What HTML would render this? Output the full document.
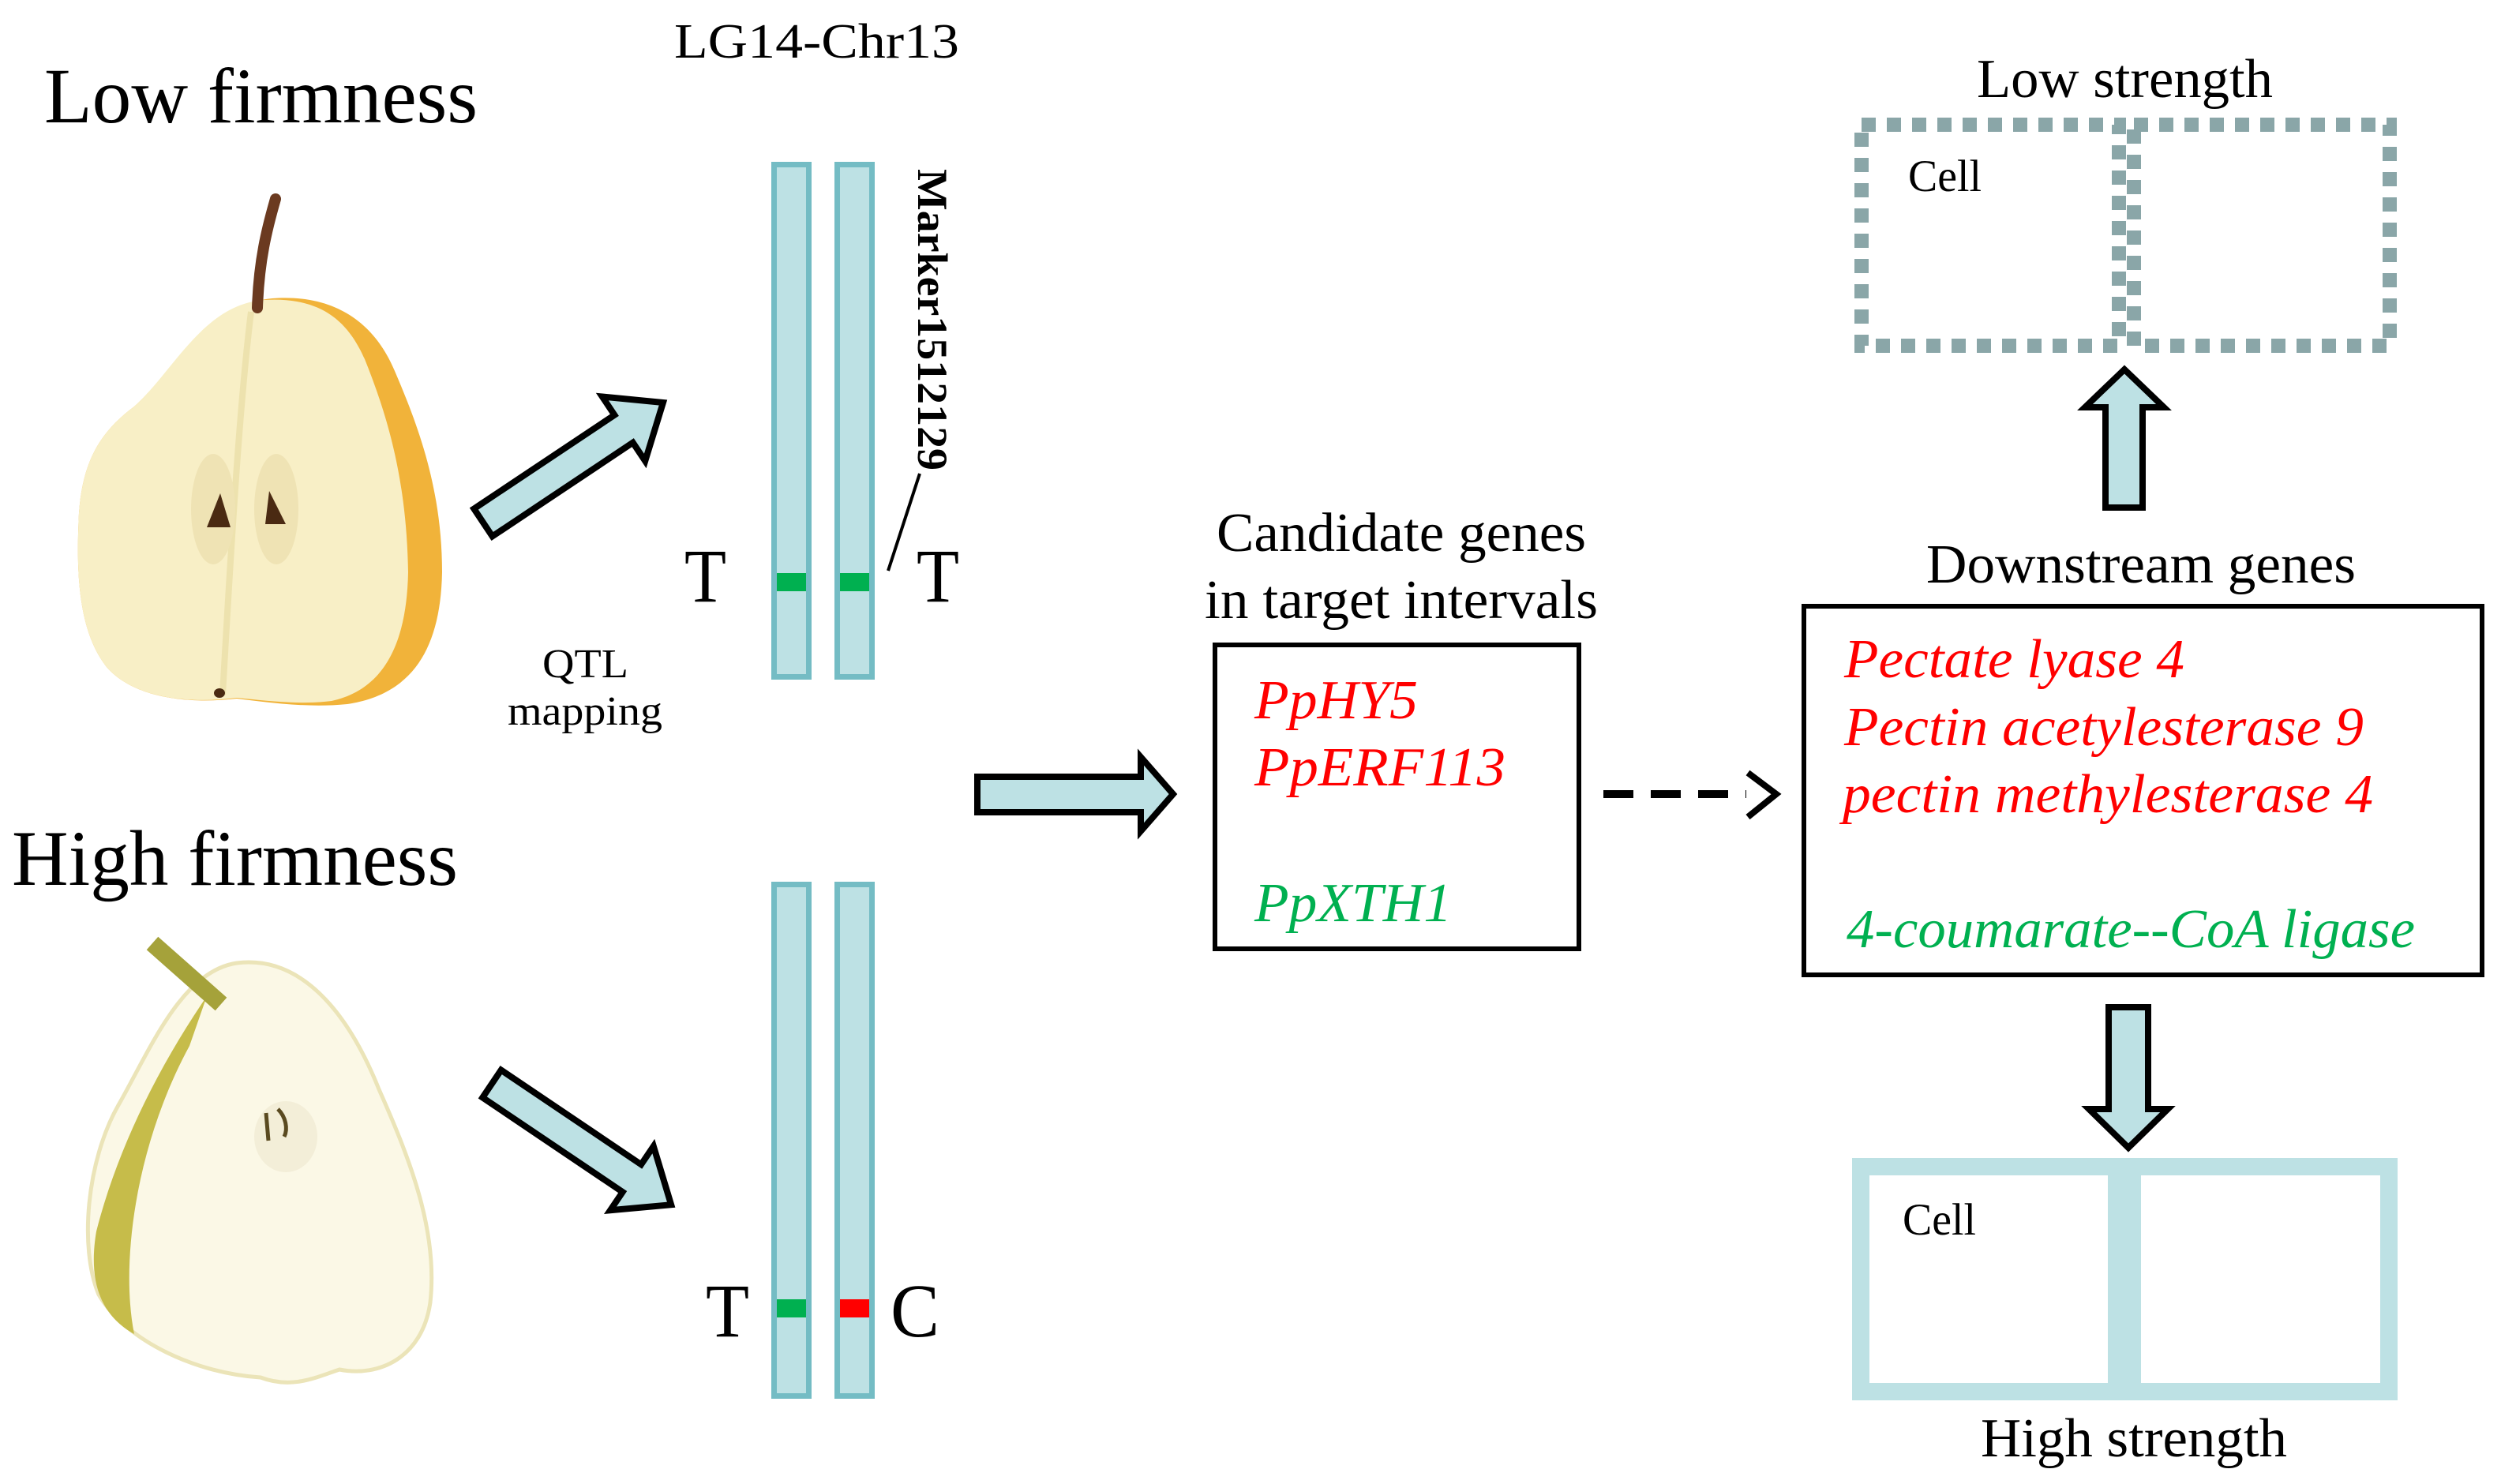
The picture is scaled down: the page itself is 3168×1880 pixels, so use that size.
<!DOCTYPE html>
<html><head><meta charset="utf-8"><style>
html,body{margin:0;padding:0;background:#fff;}
svg{display:block;}
text{font-family:"Liberation Serif",serif;}
</style></head><body>
<svg width="3168" height="1880" viewBox="0 0 3168 1880" xmlns="http://www.w3.org/2000/svg">
<rect width="3168" height="1880" fill="#fff"/>

<!-- Low firmness pear -->
<path d="M345,378 C425,372 475,410 500,470 C530,540 560,620 560,725 C558,825 520,880 440,892 C390,897 340,890 300,885 C240,892 170,885 135,845 C100,800 96,730 100,650 C105,580 130,545 170,515 C220,470 265,385 345,378 Z" fill="#f1b33a"/>
<path d="M335,380 C405,376 440,405 462,455 C490,525 515,605 517,725 C515,825 480,875 420,888 C380,893 340,888 300,884 C240,892 170,885 135,845 C100,800 96,730 100,650 C105,580 130,545 170,515 C220,470 258,385 335,380 Z" fill="#f8efc6"/>
<path d="M318,395 C305,500 295,650 282,880" stroke="#ede2ae" stroke-width="8" fill="none"/>
<ellipse cx="270" cy="645" rx="28" ry="70" fill="#efe3b4"/>
<ellipse cx="350" cy="645" rx="28" ry="70" fill="#efe3b4"/>
<path d="M279,625 L262,668 L292,668 Z" fill="#4a2a12"/>
<path d="M341,622 L336,664 L362,664 Z" fill="#4a2a12"/>
<ellipse cx="278" cy="878" rx="7" ry="6" fill="#4a2a12"/>
<path d="M349,252 C338,290 328,330 326,390" stroke="#6b3a20" stroke-width="14" fill="none" stroke-linecap="round"/>

<!-- High firmness pear -->
<path d="M300,1220 C380,1210 440,1280 480,1380 C520,1470 555,1560 545,1650 C535,1720 480,1745 430,1735 C400,1745 370,1760 330,1745 C250,1740 160,1700 125,1640 C100,1580 110,1470 150,1400 C190,1330 230,1230 300,1220 Z" fill="#fbf8e6" stroke="#ebe4b8" stroke-width="5"/>
<path d="M262,1262 C205,1345 150,1450 122,1560 C112,1620 125,1665 170,1690 C152,1600 172,1450 240,1325 Z" fill="#c6bc4a"/>
<path d="M193,1195 L280,1272" stroke="#a5a23a" stroke-width="22" stroke-linecap="butt"/>
<ellipse cx="362" cy="1440" rx="40" ry="45" fill="#f3eed8"/>
<path d="M337,1410 L340,1445 M352,1405 C362,1415 365,1430 360,1440" stroke="#5a4a20" stroke-width="5" fill="none"/>

<!-- Titles -->
<text x="56" y="155" font-size="100" textLength="549" lengthAdjust="spacingAndGlyphs">Low firmness</text>
<text x="15" y="1121" font-size="100" textLength="565" lengthAdjust="spacingAndGlyphs">High firmness</text>
<text x="854" y="73" font-size="62" textLength="361" lengthAdjust="spacingAndGlyphs">LG14-Chr13</text>
<text x="687" y="858" font-size="52" textLength="109" lengthAdjust="spacingAndGlyphs">QTL</text>
<text x="643" y="918" font-size="52" textLength="196" lengthAdjust="spacingAndGlyphs">mapping</text>

<!-- Chromosomes top -->
<rect x="980.5" y="208.5" width="44" height="649" fill="#bde1e4" stroke="#74bcc4" stroke-width="7"/>
<rect x="1060.5" y="208.5" width="44" height="649" fill="#bde1e4" stroke="#74bcc4" stroke-width="7"/>
<rect x="984" y="726" width="37" height="23" fill="#00b050"/>
<rect x="1064" y="726" width="37" height="23" fill="#00b050"/>
<text x="867" y="762" font-size="96" textLength="53" lengthAdjust="spacingAndGlyphs">T</text>
<text x="1161" y="762" font-size="96" textLength="54" lengthAdjust="spacingAndGlyphs">T</text>
<text transform="translate(1163,214) rotate(90)" font-size="54" font-weight="bold" textLength="382" lengthAdjust="spacingAndGlyphs">Marker1512129</text>
<line x1="1165" y1="600" x2="1125" y2="723" stroke="#000" stroke-width="4"/>

<!-- Chromosomes bottom -->
<rect x="980.5" y="1120.5" width="44" height="648" fill="#bde1e4" stroke="#74bcc4" stroke-width="7"/>
<rect x="1060.5" y="1120.5" width="44" height="648" fill="#bde1e4" stroke="#74bcc4" stroke-width="7"/>
<rect x="984" y="1646" width="37" height="23" fill="#00b050"/>
<rect x="1064" y="1646" width="37" height="23" fill="#ff0000"/>
<text x="894" y="1693" font-size="96" textLength="55" lengthAdjust="spacingAndGlyphs">T</text>
<text x="1128" y="1693" font-size="96" textLength="62" lengthAdjust="spacingAndGlyphs">C</text>

<!-- Block arrows -->
<g fill="#bde1e4" stroke="#000" stroke-width="8" stroke-linejoin="miter">
<polygon transform="translate(612,662) rotate(-33.7)" points="0,-21 214,-21 214,-49 274,0 214,49 214,21 0,21"/>
<polygon transform="translate(623,1373) rotate(34)" points="0,-21 214,-21 214,-49 274,0 214,49 214,21 0,21"/>
<polygon points="1238,984 1445,984 1445,959 1486,1006 1445,1053 1445,1029 1238,1029"/>
<polygon points="2667,643 2714,643 2714,516 2741,516 2691,468 2641,516 2667,516"/>
<polygon points="2671,1276 2721,1276 2721,1405 2746,1405 2696,1454 2646,1405 2671,1405"/>
</g>

<!-- Candidate box -->
<text x="1541" y="698" font-size="70" textLength="468" lengthAdjust="spacingAndGlyphs">Candidate genes</text>
<text x="1526" y="783" font-size="70" textLength="498" lengthAdjust="spacingAndGlyphs">in target intervals</text>
<rect x="1539" y="817" width="461" height="385" fill="none" stroke="#000" stroke-width="6"/>
<g font-style="italic" font-size="70">
<text x="1589" y="910" fill="#ff0000" textLength="207" lengthAdjust="spacingAndGlyphs">PpHY5</text>
<text x="1589" y="995" fill="#ff0000" textLength="318" lengthAdjust="spacingAndGlyphs">PpERF113</text>
<text x="1589" y="1167" fill="#00b050" textLength="250" lengthAdjust="spacingAndGlyphs">PpXTH1</text>
</g>

<!-- Dashed arrow -->
<line x1="2031" y1="1006" x2="2212" y2="1006" stroke="#000" stroke-width="10" stroke-dasharray="38 22"/>
<polyline points="2214,979 2250,1006 2214,1035" fill="none" stroke="#000" stroke-width="8"/>

<!-- Downstream box -->
<text x="2440" y="738" font-size="70" textLength="544" lengthAdjust="spacingAndGlyphs">Downstream genes</text>
<rect x="2285" y="768" width="859" height="467" fill="none" stroke="#000" stroke-width="6"/>
<g font-style="italic" font-size="70">
<text x="2336" y="858" fill="#ff0000" textLength="431" lengthAdjust="spacingAndGlyphs">Pectate lyase 4</text>
<text x="2336" y="944" fill="#ff0000" textLength="658" lengthAdjust="spacingAndGlyphs">Pectin acetylesterase 9</text>
<text x="2334" y="1029" fill="#ff0000" textLength="672" lengthAdjust="spacingAndGlyphs">pectin methylesterase 4</text>
<text x="2339" y="1200" fill="#00b050" textLength="720" lengthAdjust="spacingAndGlyphs">4-coumarate--CoA ligase</text>
</g>

<!-- Low strength -->
<text x="2504" y="123" font-size="70" textLength="375" lengthAdjust="spacingAndGlyphs">Low strength</text>
<g fill="none" stroke="#8aa6a8" stroke-width="18" stroke-dasharray="18 14">
<rect x="2358" y="158" width="326" height="280"/>
<rect x="2703" y="158" width="324" height="280"/>
</g>
<text x="2417" y="242" font-size="57" textLength="93" lengthAdjust="spacingAndGlyphs">Cell</text>

<!-- High strength -->
<rect x="2357" y="1478" width="669" height="285" fill="none" stroke="#bde1e4" stroke-width="22"/>
<rect x="2670" y="1467" width="42" height="307" fill="#bde1e4"/>
<text x="2410" y="1564" font-size="57" textLength="93" lengthAdjust="spacingAndGlyphs">Cell</text>
<text x="2509" y="1845" font-size="70" textLength="388" lengthAdjust="spacingAndGlyphs">High strength</text>
</svg>
</body></html>
